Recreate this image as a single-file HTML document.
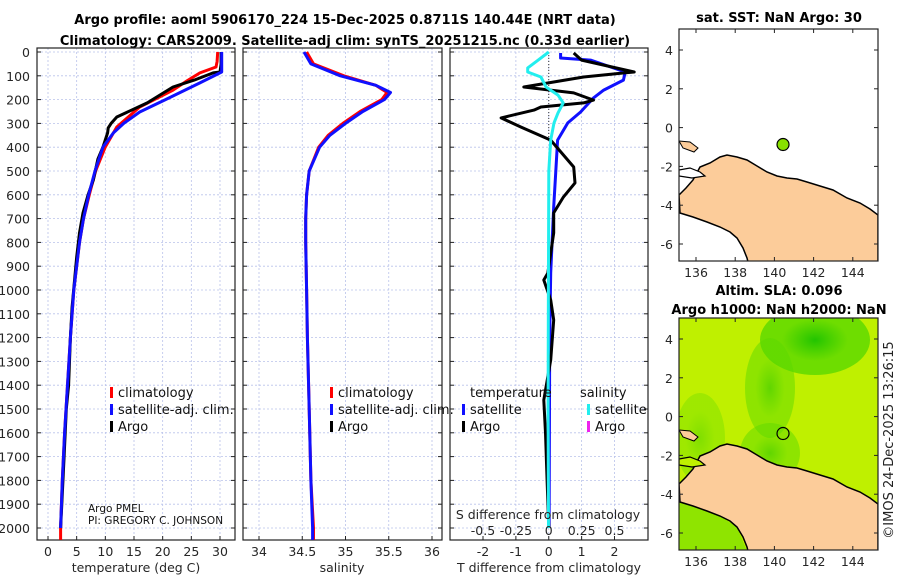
<!DOCTYPE html>
<html><head><meta charset="utf-8">
<style>
body{margin:0;background:#fff;}
svg{display:block;font-family:"DejaVu Sans","Liberation Sans",sans-serif;}
.t{font-weight:bold;font-size:13px;fill:#000;}
.tk{font-size:12.5px;fill:#262626;}
.lg{font-size:13px;fill:#111;}
</style></head>
<body>
<svg id="fig" width="900" height="580" viewBox="0 0 900 580">
<text class="t" x="345" y="24" text-anchor="middle">Argo profile: aoml 5906170_224 15-Dec-2025 0.8711S 140.44E (NRT data)</text>
<text class="t" x="345" y="45" text-anchor="middle">Climatology: CARS2009. Satellite-adj clim: synTS_20251215.nc (0.33d earlier)</text>
<g id="panels"></g>
<g id="maps"></g>
<text x="893" y="440" font-size="13" fill="#222" text-anchor="middle" transform="rotate(-90 893 440)">©IMOS 24-Dec-2025 13:26:15</text>
</svg>
<script>
// ---- data ----
const depthTicks = [0,100,200,300,400,500,600,700,800,900,1000,1100,1200,1300,1400,1500,1600,1700,1800,1900,2000];
const tempTicks = [0,5,10,15,20,25,30];
const salTicks = [34,34.5,35,35.5,36];
const salTickLabels = ["34","34.5","35","35.5","36"];
const dTTicks = [-2,-1,0,1,2];
const dSTickLabels = ["-0.5","-0.25","0","0.25","0.5"];
const dSTicks = [-0.5,-0.25,0,0.25,0.5];

const argoTDepth = [0,50,84,88,118,147,214,273,300,319,340,399,450,538,600,676,760,861,1071,1200,1400,1500,1700,1900,2000];
const argoT = [30.2,30.2,30.0,28.8,25.5,21.8,17.3,12,11,10.5,10.4,9.6,8.7,7.9,7,6.1,5.5,5.0,4.2,3.9,3.6,3.2,2.8,2.4,2.2];
const climTDepth = [0,40,63,88,120,160,231,315,399,500,600,700,800,1000,1200,1400,1600,1800,2000,2050];
const climT = [29.6,29.5,29.3,26.5,24.3,21.8,16,12,10,8.3,7.2,6.2,5.5,4.5,3.9,3.4,2.9,2.5,2.2,2.2];
const satTDepth = [0,84,130,200,252,300,340,399,500,600,700,800,1000,1200,1400,1600,1800,2000];
const satT = [30.3,30.3,26.5,20.5,16,13.2,11.4,9.6,8.2,7.1,6.2,5.5,4.5,3.9,3.4,2.9,2.5,2.2];

const salDepth = [0,50,100,140,170,200,250,300,350,400,500,600,700,800,1000,1200,1500,1800,2000,2050];
const satS = [34.52,34.6,34.94,35.35,35.52,35.45,35.2,35.0,34.82,34.7,34.58,34.55,34.54,34.54,34.55,34.56,34.58,34.6,34.62,34.62];
const climS = [34.55,34.63,34.98,35.35,35.48,35.42,35.17,34.97,34.8,34.69,34.58,34.55,34.54,34.54,34.55,34.56,34.58,34.6,34.63,34.63];

const argoDTDepth = [4,34,84,88,105,147,172,202,214,231,244,277,315,370,483,550,609,676,760,929,958,1042,1126,1294,1462,1600,1800,2000];
const argoDT = [0.76,1.0,2.6,2.3,1.06,-0.76,0.76,1.36,1.06,-0.24,-0.45,-1.45,-0.85,0.06,0.76,0.8,0.45,0.15,0.15,-0.03,-0.15,0.06,0.15,0.06,-0.15,-0.1,-0.05,0];
const satDTDepth = [4,25,34,84,118,160,193,252,298,370,508,651,929,1200,1600,2000];
const satDT = [0.36,0.36,1.27,2.33,2.27,1.67,1.36,0.97,0.58,0.27,0.21,0.15,0.06,0.03,0.02,0.01];
const satDSDepth = [0,34,67,84,105,147,181,214,256,298,370,500,1000,1500,2000];
const satDS = [0,-0.08,-0.16,-0.16,-0.06,-0.02,0.07,0.11,0.07,0.04,0.015,0,-0.003,-0.005,-0.002];

// ---- helpers ----
const NS="http://www.w3.org/2000/svg";
const panels=document.getElementById('panels');
function mk(tag,attrs,parent){const e=document.createElementNS(NS,tag);for(const k in attrs)e.setAttribute(k,attrs[k]);(parent||panels).appendChild(e);return e;}
const Y0=52, YK=0.238, PB=540;
function yD(d){return Y0+d*YK;}
function axisLin(v0,x0,v1,x1){return v=>x0+(v-v0)*(x1-x0)/(v1-v0);}

function panelFrame(x0,x1,xs,xTicks,name){
  const g=mk('g',{});
  
  
  depthTicks.forEach(d=>{const l=mk('line',{x1:x0,x2:x1,y1:yD(d),y2:yD(d),stroke:'#b9c2ea','stroke-width':0.8,'stroke-dasharray':'2,2'},g);
    
    mk('line',{x1:x0,x2:x0+4,y1:yD(d),y2:yD(d),stroke:'#222'},g);mk('line',{x1:x1-4,x2:x1,y1:yD(d),y2:yD(d),stroke:'#222'},g);});
  xTicks.forEach(v=>{const x=xs(v);const l=mk('line',{x1:x,x2:x,y1:Y0-4,y2:PB,stroke:'#b9c2ea','stroke-width':0.8,'stroke-dasharray':'2,2'},g);
    
    mk('line',{x1:x,x2:x,y1:PB,y2:PB-4,stroke:'#222'},g);});
  const r=mk('rect',{x:x0,y:Y0-4,width:x1-x0,height:PB-Y0+4,fill:'none',stroke:'#222','stroke-width':1.2},g);
  
  return g;
}
function line(depths,vals,xs,color,name,w){
  const pts=depths.map((d,i)=>xs(vals[i]).toFixed(1)+','+yD(d).toFixed(1)).join(' ');
  const p=mk('polyline',{points:pts,fill:'none',stroke:color,'stroke-width':w||3,'stroke-linejoin':'round'});
  
  
  return p;
}
function text(x,y,s,cls,anchor,name){const t=mk('text',{x:x,y:y,class:cls,'text-anchor':anchor||'start'});t.textContent=s;
  
  
  return t;}
function legendEntry(x,y,color,label,name){
  mk('rect',{x:x,y:y-10,width:3,height:11,fill:color});
  const t=text(x+8,y,label,'lg','start',name);
}

// Panel 1: temperature
const xT=axisLin(0,48,30,220);
panelFrame(37,235,xT,tempTicks,'temperature-panel');
line(climTDepth,climT,xT,'#ff0000','climatology-temperature-line');
line(argoTDepth,argoT,xT,'#000','argo-temperature-line');
line(satTDepth,satT,xT,'#1010ff','satellite-adj-temperature-line');
depthTicks.forEach(d=>text(30,yD(d)+5,String(d),'tk','end','depth-tick-label'));
tempTicks.forEach(v=>text(xT(v),556,String(v),'tk','middle','temperature-tick-label'));
text(136,572,'temperature (deg C)','tk','middle','temperature-axis-title');
legendEntry(110,397,'#ff0000','climatology','legend-climatology');
legendEntry(110,414,'#1010ff','satellite-adj. clim.','legend-satellite-adj');
legendEntry(110,431,'#000','Argo','legend-argo');
const pm1=mk('text',{x:88,y:512,'font-size':10.5,fill:'#111'});pm1.textContent='Argo PMEL';

const pm2=mk('text',{x:88,y:524,'font-size':10.5,fill:'#111'});pm2.textContent='PI: GREGORY C. JOHNSON';


// Panel 2: salinity
const xS=axisLin(34,259,35,345.5);
panelFrame(243,442,xS,salTicks,'salinity-panel');
line(salDepth,climS,xS,'#ff0000','climatology-salinity-line');
line(salDepth,satS,xS,'#1010ff','satellite-adj-salinity-line');
salTicks.forEach((v,i)=>text(xS(v),556,salTickLabels[i],'tk','middle','salinity-tick-label'));
text(342,572,'salinity','tk','middle','salinity-axis-title');
legendEntry(330,397,'#ff0000','climatology','legend-climatology-s');
legendEntry(330,414,'#1010ff','satellite-adj. clim.','legend-satellite-adj-s');
legendEntry(330,431,'#000','Argo','legend-argo-s');

// Panel 3: differences
const xDT=axisLin(-2,483,2,614.5);
const xDS=axisLin(-0.5,483,0.5,614.5);
panelFrame(450,648,xDT,dTTicks,'difference-panel');
mk('line',{x1:xDT(0),x2:xDT(0),y1:Y0,y2:140,stroke:'#333','stroke-dasharray':'1,2'});
line(satDTDepth,satDT,xDT,'#1010ff','satellite-temperature-difference-line');
line(argoDTDepth,argoDT,xDT,'#000','argo-temperature-difference-line');
line(satDSDepth,satDS,xDS,'#22eeee','satellite-salinity-difference-line');
dTTicks.forEach(v=>text(xDT(v),556,String(v),'tk','middle','t-difference-tick-label'));
text(549,572,'T difference from climatology','tk','middle','t-difference-axis-title');
text(548,519,'S difference from climatology','tk','middle','s-difference-axis-title');
dSTicks.forEach((v,i)=>text(xDS(v),535,dSTickLabels[i],'tk','middle','s-difference-tick-label'));
text(470,397,'temperature','lg','start','legend-temperature-header');
text(580,397,'salinity','lg','start','legend-salinity-header');
legendEntry(462,414,'#1010ff','satellite','legend-t-satellite');
legendEntry(462,431,'#000','Argo','legend-t-argo');
legendEntry(587,414,'#22eeee','satellite','legend-s-satellite');
legendEntry(587,431,'#ee22ee','Argo','legend-s-argo');

// ---- maps ----
const maps=document.getElementById('maps');
const mapLonTicks=[136,138,140,142,144];
const mapLatTicks=[4,2,0,-2,-4,-6];
const argoLon=140.44, argoLat=-0.8711;
function lonX(l){return 696+(l-136)*19.6;}
function latY(l,top){return top+21+(4-l)*19.4;}
const landPath="M679,195 L686,188 L693,180 L700,167 L710,163 L720,157 L727,155 L737,157 L747,160 L757,166 L767,172 L777,176 L787,178 L797,179 L807,182 L820,186 L833,190 L847,198 L860,203 L870,209 L878,215 L878,262 L748,262 L747,258 L743,248 L737,238 L730,232 L720,227 L707,222 L693,217 L680,213 Z";
function map(top,name,heat){
  const g=document.createElementNS(NS,'g');maps.appendChild(g);
  
  
  const clipId='clip'+top;
  const cp=mk('clipPath',{id:clipId},g);mk('rect',{x:679,y:top,width:199,height:232},cp);
  const inner=mk('g',{'clip-path':'url(#'+clipId+')'},g);
  if(heat){
    const defs=mk('defs',{},inner);
    const rg=mk('radialGradient',{id:'gblob',cx:'0.5',cy:'0.5',r:'0.5'},defs);
    mk('stop',{offset:'0','stop-color':'#22c400'},rg);mk('stop',{offset:'0.6','stop-color':'#5ad800','stop-opacity':0.8},rg);mk('stop',{offset:'1','stop-color':'#a8ec00','stop-opacity':0});
    mk('rect',{x:679,y:top,width:199,height:232,fill:'#bff000'},inner);
    mk('ellipse',{cx:815,cy:top+22,rx:55,ry:35,fill:'url(#gblob)'},inner);
    mk('ellipse',{cx:770,cy:top+70,rx:25,ry:50,fill:'url(#gblob)',opacity:0.6},inner);
    mk('ellipse',{cx:770,cy:top+135,rx:30,ry:30,fill:'url(#gblob)',opacity:0.6},inner);
    mk('ellipse',{cx:700,cy:top+120,rx:25,ry:45,fill:'url(#gblob)',opacity:0.4},inner);
    mk('polygon',{points:`679,${top+184} 693,${top+188} 720,${top+198} 737,${top+209} 747,${top+233} 679,${top+233}`,fill:'#8fe400'},inner);
  }
  const land=mk('path',{d:landPath,fill:'#fccc9a',stroke:'#000','stroke-width':1.5,transform:`translate(0,${top-29})`},inner);
  
  
  mk('path',{d:'M679,170 L690,168 L700,172 L705,176 L692,178 L679,176 Z',fill:heat?'#bff000':'#fff',stroke:'#000','stroke-width':1.2,transform:`translate(0,${top-29})`},inner);
  mk('path',{d:'M679,141 L690,142 L698,148 L694,152 L683,148 Z',fill:'#fccc9a',stroke:'#000','stroke-width':1,transform:`translate(0,${top-29})`},inner);
  const dot=mk('circle',{cx:lonX(argoLon),cy:latY(argoLat,top),r:6,fill:heat?'none':'#88e000',stroke:'#000','stroke-width':1.2},g);
  
  
  const fr=mk('rect',{x:679,y:top,width:199,height:232,fill:'none',stroke:'#222','stroke-width':1.2},g);
  
  
  mapLatTicks.forEach(l=>{const y=latY(l,top);mk('line',{x1:679,x2:683,y1:y,y2:y,stroke:'#222'},g);mk('line',{x1:874,x2:878,y1:y,y2:y,stroke:'#222'},g);
    const t=mk('text',{x:673,y:y+5,class:'tk','text-anchor':'end'},g);t.textContent=String(l);
    });
  mapLonTicks.forEach(l=>{const x=lonX(l);mk('line',{x1:x,x2:x,y1:top,y2:top+4,stroke:'#222'},g);mk('line',{x1:x,x2:x,y1:top+228,y2:top+232,stroke:'#222'},g);
    const t=mk('text',{x:x,y:top+248,class:'tk','text-anchor':'middle'},g);t.textContent=String(l);
    });
}
map(29,'sst-map',false);
map(318,'sla-map',true);
function mt(y,s,name){const t=mk('text',{x:779,y:y,class:'t','text-anchor':'middle'},maps);t.textContent=s;
  }
mt(22,'sat. SST: NaN Argo: 30','sst-map-title');
mt(295,'Altim. SLA: 0.096','sla-map-title');
mt(314,'Argo h1000: NaN h2000: NaN','sla-map-subtitle');
</script>
</body></html>
